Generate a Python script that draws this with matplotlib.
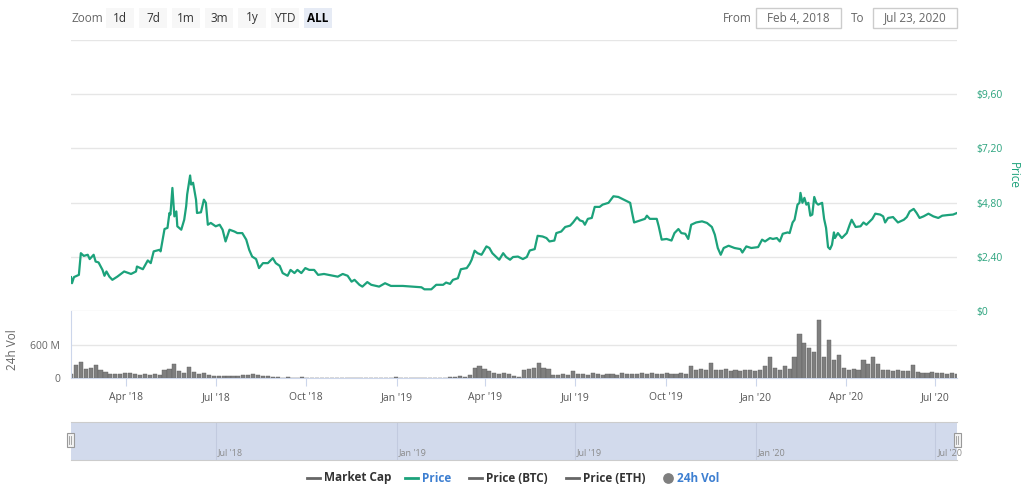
import numpy as np
import pandas as pd
import matplotlib
matplotlib.use('Agg')
import matplotlib.pyplot as plt
from matplotlib.patches import Rectangle

plt.rcParams['font.family'] = ['Open Sans', 'DejaVu Sans']

W, H = 1024, 493
start = pd.Timestamp('2018-02-04')
end = pd.Timestamp('2020-07-23')

# price trace, days counted from Feb 4, 2018
price_days = [0, 1, 3, 8, 10, 13, 17, 19, 23, 25, 28, 32, 34, 36, 39, 42, 47, 54, 61, 66,
              67, 73, 78, 81, 84, 90, 91, 95, 98, 100, 101, 103, 105, 107, 108, 112, 113, 115, 117, 118,
              121, 122, 124, 127, 128, 132, 135, 137, 139, 142, 147, 151, 154, 157, 161, 166, 169, 174, 178, 181,
              184, 188, 191, 195, 200, 205, 208, 212, 215, 220, 223, 227,
              230, 234, 238, 242, 247, 251, 257, 266, 271, 276, 281, 285, 288, 293, 296, 301, 305, 313, 319, 325,
              337, 356, 359, 366, 371, 378, 381, 385, 388, 393, 396, 402, 405, 407, 410, 413, 417, 418, 422, 425,
              428, 432, 435, 439, 442, 446, 449, 454,
              459, 463, 466, 471, 474, 479, 483, 486, 491, 493, 498, 502, 507, 510, 514, 517, 520, 522, 525, 529,
              532, 537, 540, 546, 551, 556, 563, 568, 570, 572, 578, 583, 585, 588, 595, 597, 600, 605, 610, 613,
              617, 620, 624, 627, 630, 635, 641, 646, 651, 654, 657, 660, 663, 668, 674, 680, 682,
              686, 691, 698, 702, 705, 710, 713, 717, 720, 723, 728, 730, 733, 735, 738, 740, 741, 743, 745, 747,
              749, 751, 753, 755, 757, 759, 763, 765, 767, 769, 771, 773, 775, 776, 779, 783, 788, 791, 793, 797,
              802, 805, 808, 814, 817, 822, 825, 827, 830, 835, 840, 846, 849, 852, 856, 859, 862, 866, 871, 876,
              881, 885, 891, 896, 900]
price_usd = [1.50, 1.23, 1.50, 1.60, 2.56, 2.44, 2.49, 2.30, 2.49, 2.19, 2.15, 1.82, 1.56, 1.75, 1.52, 1.38, 1.52, 1.75, 1.64, 1.75,
             1.97, 1.85, 2.24, 2.12, 2.64, 2.71, 2.64, 3.63, 3.68, 4.34, 4.27, 5.45, 4.19, 4.41, 3.75, 3.60, 3.75, 4.04, 4.64, 5.16,
             6.00, 5.60, 5.68, 4.93, 4.34, 4.37, 4.93, 4.79, 3.82, 3.90, 3.75, 3.82, 3.60, 3.08, 3.60, 3.52, 3.45, 3.45, 3.16, 2.71,
             2.41, 2.30, 1.90, 2.12, 2.12, 2.34, 2.12, 2.00, 1.68, 1.56, 1.82, 1.68,
             1.82, 1.68, 1.90, 1.82, 1.82, 1.60, 1.64, 1.56, 1.52, 1.64, 1.56, 1.30, 1.38, 1.16, 1.08, 1.28, 1.16, 1.08, 1.23, 1.11,
             1.11, 1.05, 0.96, 0.96, 1.16, 1.16, 1.26, 1.20, 1.38, 1.45, 1.85, 1.90, 2.09, 2.27, 2.67, 2.56, 2.49, 2.56, 2.86, 2.79,
             2.56, 2.39, 2.27, 2.56, 2.39, 2.27, 2.39, 2.41,
             2.30, 2.39, 2.68, 2.74, 3.33, 3.30, 3.23, 3.08, 3.12, 3.45, 3.52, 3.72, 3.78, 3.92, 4.15, 4.01, 3.97, 3.82, 4.08, 4.12,
             4.61, 4.61, 4.71, 4.79, 5.08, 5.05, 4.90, 4.79, 4.34, 3.92, 4.01, 4.08, 4.22, 4.08, 4.08, 3.75, 3.16, 3.19, 3.12, 3.45,
             3.63, 3.45, 3.42, 3.19, 3.82, 3.92, 3.97, 3.90, 3.72, 3.38, 2.79, 2.49, 2.79, 2.89, 2.79, 2.74, 2.59,
             2.86, 2.79, 2.83, 3.16, 3.08, 3.23, 3.19, 3.23, 3.08, 3.42, 3.48, 3.45, 3.92, 4.04, 4.71, 4.79, 5.23, 4.79, 5.01, 4.71,
             4.79, 4.22, 4.27, 5.05, 4.79, 4.71, 4.79, 4.08, 3.68, 2.83, 2.74, 2.93, 3.48, 3.23, 3.45, 3.23, 3.45, 3.82, 4.04, 3.72,
             3.75, 3.92, 3.82, 4.08, 4.31, 4.27, 4.19, 3.92, 4.12, 4.16, 3.92, 4.04, 4.16, 4.41, 4.52, 4.34, 4.12, 4.19, 4.31, 4.19,
             4.12, 4.22, 4.25, 4.27, 4.34]

# 24h volume (millions USD), one value every 5 days
vol_days = list(range(0, 901, 5))
vol_millions = [80, 240, 290, 170, 180, 240, 145, 110, 70, 65,
                80, 100, 90, 75, 60, 70, 55, 65, 55, 140,
                170, 250, 120, 100, 200, 110, 70, 100, 60, 40,
                35, 40, 45, 35, 45, 55, 50, 80, 50, 40,
                30, 25, 25, 0, 10, 0, 0, 10, 0, 0,
                8, 0, 0, 0, 0, 0, 0, 0, 8, 0,
                0, 8, 0, 0, 8, 0, 10, 0, 0, 0,
                0, 0, 0, 0, 0, 0, 0, 10, 20, 30,
                25, 60, 180, 220, 160, 120, 90, 80, 90, 70,
                30, 20, 150, 170, 190, 280, 180, 170, 60, 60,
                70, 60, 120, 70, 80, 60, 90, 70, 60, 80,
                70, 60, 90, 70, 80, 70, 90, 70, 90, 80,
                70, 90, 80, 70, 90, 80, 220, 150, 160, 140,
                280, 150, 140, 160, 130, 140, 130, 150, 140, 130,
                150, 210, 390, 180, 150, 210, 160, 390, 810, 640,
                540, 480, 1060, 390, 690, 330, 420, 180, 150, 160,
                140, 330, 250, 380, 260, 140, 150, 130, 140, 120,
                130, 240, 110, 100, 90, 110, 90, 100, 80, 90,
                70]

price_ticks = [0, 2.4, 4.8, 7.2, 9.6, 12]
price_tick_labels = ['$0', '$2,40', '$4,80', '$7,20', '$9,60', '']
quarter_dates = ['2018-04-01', '2018-07-01', '2018-10-01', '2019-01-01', '2019-04-01',
                 '2019-07-01', '2019-10-01', '2020-01-01', '2020-04-01', '2020-07-01']
quarter_labels = ["Apr '18", "Jul '18", "Oct '18", "Jan '19", "Apr '19",
                  "Jul '19", "Oct '19", "Jan '20", "Apr '20", "Jul '20"]
nav_dates = ['2018-07-01', '2019-01-01', '2019-07-01', '2020-01-01', '2020-07-01']
nav_labels = ["Jul '18", "Jan '19", "Jul '19", "Jan '20", "Jul '20"]
zoom_buttons = ['1d', '7d', '1m', '3m', '1y', 'YTD', 'ALL']
legend_names = ['Market Cap', 'Price', 'Price (BTC)', 'Price (ETH)', '24h Vol']

GREEN = '#1ca27b'
GRID = '#e6e6e6'
AXIS = '#ccd6eb'

price_dates = start + pd.to_timedelta(price_days, unit='D')
vol_dates = start + pd.to_timedelta(vol_days, unit='D')

fig = plt.figure(figsize=(W / 100, H / 100), dpi=100)


def px_axes(x0, y0, x1, y1):
    return fig.add_axes([x0 / W, 1 - y1 / H, (x1 - x0) / W, (y1 - y0) / H])


# price panel
ax = px_axes(71, 40, 957, 311)
ax.plot(price_dates, price_usd, color=GREEN, lw=1.6, solid_joinstyle='round')
ax.set_xlim(start, end)
ax.set_ylim(0, 12)
ax.set_yticks(price_ticks)
ax.set_yticklabels(price_tick_labels)
ax.yaxis.tick_right()
ax.tick_params(axis='y', length=0, pad=14, labelsize=7.5, labelcolor='#2aa37d')
ax.set_xticks([])
ax.grid(axis='y', color=GRID, lw=1)
for s in ax.spines.values():
    s.set_visible(False)

# volume panel
av = px_axes(71, 311, 957, 378)
av.bar(vol_dates, vol_millions, width=4.2, color='#7f7f7f', edgecolor='#5e5e5e', linewidth=0.3)
av.set_xlim(start, end)
av.set_ylim(0, 1220)
av.set_yticks([0, 600])
av.set_yticklabels(['0', '600 M'])
av.tick_params(axis='y', length=0, pad=8, labelsize=7.5, labelcolor='#666666')
av.grid(axis='y', color=GRID, lw=1)
av.set_axisbelow(True)
av.set_xticks(pd.to_datetime(quarter_dates))
av.set_xticklabels(quarter_labels)
av.tick_params(axis='x', length=6, color=AXIS, labelsize=7.5, labelcolor='#555555', pad=4)
for k in ['top', 'right']:
    av.spines[k].set_visible(False)
av.spines['left'].set_color(AXIS)
av.spines['bottom'].set_color(AXIS)

# navigator
an = px_axes(71, 422, 957, 460)
an.set_facecolor('#d2daec')
an.set_xlim(start, end)
an.set_ylim(0, 1)
for d, lab in zip(pd.to_datetime(nav_dates), nav_labels):
    an.axvline(d, color='#c2cadf', lw=0.8)
    an.text(d + pd.Timedelta(days=2), 0.2, lab, fontsize=6.5, color='#8a8a8a', va='center', ha='left')
an.set_xticks([])
an.set_yticks([])
for k in ['left', 'right']:
    an.spines[k].set_visible(False)
an.spines['top'].set_color('#cccccc')
an.spines['bottom'].set_color('#cccccc')

# overlay for the chrome around the chart, in pixel coordinates
ov = fig.add_axes([0, 0, 1, 1])
ov.set_xlim(0, W)
ov.set_ylim(H, 0)
ov.axis('off')

ov.text(72, 18, 'Zoom', fontsize=8.5, color='#666666', va='center')
for i, lab in enumerate(zoom_buttons):
    x0 = 106 + i * 33
    sel = lab == 'ALL'
    ov.add_patch(Rectangle((x0, 8), 28, 20, facecolor='#e6ebf5' if sel else '#f7f7f7', edgecolor='none'))
    ov.text(x0 + 14, 18, lab, fontsize=8.5, color='#000000' if sel else '#333333',
            fontweight='bold' if sel else 'normal', ha='center', va='center')

ov.text(723, 18, 'From', fontsize=8.5, color='#666666', va='center')
ov.add_patch(Rectangle((756, 8), 85, 20, facecolor='white', edgecolor='#cccccc', lw=1))
ov.text(798, 18, 'Feb 4, 2018', fontsize=8.5, color='#666666', ha='center', va='center')
ov.text(851, 18, 'To', fontsize=8.5, color='#666666', va='center')
ov.add_patch(Rectangle((873, 8), 84, 20, facecolor='white', edgecolor='#cccccc', lw=1))
ov.text(915, 18, 'Jul 23, 2020', fontsize=8.5, color='#666666', ha='center', va='center')

ov.text(1013, 175, 'Price', fontsize=8.5, color=GREEN, rotation=270, ha='center', va='center')
ov.text(12, 350, '24h Vol', fontsize=8.5, color='#666666', rotation=90, ha='center', va='center')

# navigator handles
for hx in [70, 957]:
    ov.add_patch(Rectangle((hx - 3.5, 433), 7, 14, facecolor='#f2f2f2', edgecolor='#999999', lw=0.8))
    ov.plot([hx - 1, hx - 1], [436, 444], color='#999999', lw=0.6)
    ov.plot([hx + 1, hx + 1], [436, 444], color='#999999', lw=0.6)

# legend
leg_x = [307, 405, 469, 566, 663]
leg_colors = ['#666666', GREEN, '#666666', '#666666', '#666666']
leg_text_colors = ['#333333', '#3d7fd1', '#333333', '#333333', '#3d7fd1']
for x0, name, c, tc in zip(leg_x, legend_names, leg_colors, leg_text_colors):
    if name == '24h Vol':
        ov.scatter([x0 + 5], [478], s=45, color='#7f7f7f', marker='o')
        tx = x0 + 14
    else:
        ov.plot([x0, x0 + 13], [478, 478], color=c, lw=2)
        tx = x0 + 17
    ov.text(tx, 478, name, fontsize=8.5, color=tc, fontweight='bold', va='center', ha='left')

fig.savefig('out.png', dpi=100)
